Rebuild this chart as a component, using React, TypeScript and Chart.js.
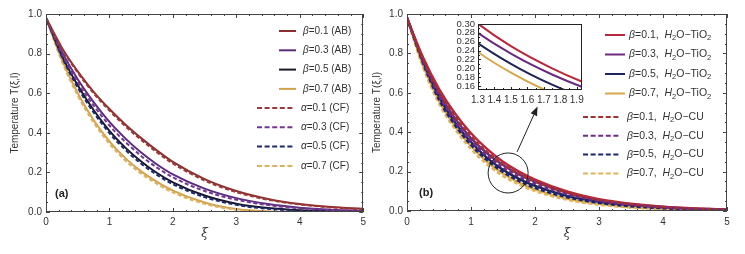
import React, { useEffect, useRef } from "react";
import { Chart, registerables } from "chart.js";

Chart.register(...registerables);

// ---------- data ----------
const XI = [0, 0.25, 0.5, 0.75, 1, 1.25, 1.5, 1.75, 2, 2.5, 3, 3.5, 4, 4.5, 5];

// Panel (a): AB (solid) and CF (dashed)
const AB_B01 = [0.98, 0.83, 0.71, 0.607, 0.52, 0.442, 0.373, 0.31, 0.253, 0.166, 0.106, 0.066, 0.04, 0.025, 0.016];
const AB_B03 = [0.98, 0.81, 0.67, 0.555, 0.455, 0.372, 0.3, 0.24, 0.19, 0.118, 0.07, 0.04, 0.022, 0.012, 0.006];
const AB_B05 = [0.98, 0.79, 0.64, 0.515, 0.41, 0.325, 0.255, 0.197, 0.15, 0.083, 0.042, 0.02, 0.009, 0.004, 0.001];
const AB_B07 = [0.98, 0.77, 0.6, 0.465, 0.357, 0.272, 0.205, 0.152, 0.108, 0.048, 0.015, 0.003, 0, 0, 0];
const CF_A01 = [0.98, 0.826, 0.704, 0.6, 0.512, 0.433, 0.364, 0.301, 0.245, 0.159, 0.1, 0.062, 0.038, 0.023, 0.014];
const CF_A03 = [0.98, 0.8, 0.655, 0.538, 0.437, 0.354, 0.283, 0.224, 0.175, 0.106, 0.062, 0.035, 0.019, 0.01, 0.005];
const CF_A05 = [0.98, 0.783, 0.628, 0.503, 0.398, 0.314, 0.244, 0.187, 0.14, 0.075, 0.036, 0.016, 0.007, 0.003, 0.001];
const CF_A07 = [0.98, 0.76, 0.588, 0.452, 0.345, 0.26, 0.194, 0.142, 0.099, 0.041, 0.011, 0.001, 0, 0, 0];

// Panel (b): H2O-TiO2 (solid) and H2O-CU (dashed)
const TIO2_B01 = [0.98, 0.78, 0.62, 0.495, 0.395, 0.315, 0.25, 0.2, 0.16, 0.1, 0.06, 0.037, 0.022, 0.013, 0.008];
const TIO2_B03 = [0.98, 0.77, 0.6, 0.47, 0.37, 0.293, 0.233, 0.186, 0.149, 0.093, 0.056, 0.034, 0.02, 0.012, 0.007];
const TIO2_B05 = [0.98, 0.76, 0.58, 0.45, 0.35, 0.27, 0.21, 0.163, 0.127, 0.077, 0.046, 0.027, 0.016, 0.009, 0.005];
const TIO2_B07 = [0.98, 0.74, 0.56, 0.43, 0.33, 0.25, 0.19, 0.144, 0.11, 0.063, 0.036, 0.02, 0.011, 0.006, 0.003];
const CU_B01 = [0.98, 0.77, 0.605, 0.48, 0.38, 0.3, 0.237, 0.188, 0.15, 0.093, 0.056, 0.034, 0.02, 0.012, 0.007];
const CU_B03 = [0.98, 0.76, 0.585, 0.455, 0.355, 0.28, 0.22, 0.174, 0.138, 0.085, 0.051, 0.031, 0.018, 0.01, 0.006];
const CU_B05 = [0.98, 0.75, 0.565, 0.435, 0.335, 0.258, 0.198, 0.152, 0.117, 0.07, 0.041, 0.024, 0.014, 0.008, 0.004];
const CU_B07 = [0.98, 0.73, 0.545, 0.415, 0.315, 0.237, 0.178, 0.134, 0.101, 0.057, 0.032, 0.018, 0.01, 0.005, 0.003];

const PARAMS = ["0.1", "0.3", "0.5", "0.7"];

const A_SOLID = [AB_B01, AB_B03, AB_B05, AB_B07];
const A_DASHED = [CF_A01, CF_A03, CF_A05, CF_A07];
const B_SOLID = [TIO2_B01, TIO2_B03, TIO2_B05, TIO2_B07];
const B_DASHED = [CU_B01, CU_B03, CU_B05, CU_B07];

const A_SOLID_COLORS = ["#8e2f2f", "#5b2d80", "#17172e", "#d4a24c"];
const A_DASHED_COLORS = ["#9a3a3a", "#74378e", "#1f2a66", "#d9b260"];
const B_SOLID_COLORS = ["#b8283a", "#6b2a80", "#1d2457", "#d6a84a"];
const B_DASHED_COLORS = ["#a03232", "#6c2b8b", "#1a2470", "#e0b35a"];

const Y_TITLE = "Temperature T(\u03BE,l)";
const X_TITLE = "\u03BE";

// ---------- helpers ----------
const FONT = '"Liberation Sans", Arial, sans-serif';
type Run = { t: string; i?: boolean; sub?: boolean };

function drawRuns(ctx: any, runs: Run[], x: number, y: number, size: number, color: string) {
  ctx.save();
  ctx.fillStyle = color;
  ctx.textBaseline = "middle";
  ctx.textAlign = "left";
  let cx = x;
  for (const r of runs) {
    const s = r.sub ? size * 0.72 : size;
    ctx.font = `${r.i ? "italic " : ""}${s}px ${FONT}`;
    ctx.fillText(r.t, cx, y + (r.sub ? size * 0.3 : 0));
    cx += ctx.measureText(r.t).width;
  }
  ctx.restore();
}

function series(values: number[], color: string, dashed: boolean, lw: number) {
  return {
    data: XI.map((x, i) => ({ x, y: values[i] })),
    borderColor: color,
    backgroundColor: color,
    borderWidth: lw,
    borderDash: dashed ? [4, 2.5] : [],
    pointRadius: 0,
    cubicInterpolationMode: "monotone",
    fill: false,
    order: dashed ? 0 : 1,
  };
}

const framePlugin = {
  id: "frame",
  afterDatasetsDraw(chart: any, _a: any, o: any) {
    const { ctx, chartArea: ca, scales } = chart;
    const xs = scales.x, ys = scales.y;
    ctx.save();
    if (o.fillBg) {
      // nothing: background painted before datasets in beforeDatasetsDraw
    }
    ctx.strokeStyle = o.color;
    ctx.lineWidth = 1;
    ctx.strokeRect(Math.round(ca.left) + 0.5, Math.round(ca.top) + 0.5, Math.round(ca.right - ca.left) - 1, Math.round(ca.bottom - ca.top) - 1);
    const eps = 1e-6;
    const isMajor = (v: number, step: number) => Math.abs(v / step - Math.round(v / step)) < 1e-4;
    ctx.beginPath();
    // x ticks
    const x0 = Math.ceil(xs.min / o.xMinor - eps);
    for (let k = x0; k * o.xMinor <= xs.max + eps; k++) {
      const v = k * o.xMinor;
      const len = isMajor(v, o.xMajor) ? o.major : o.minor;
      const px = Math.round(xs.getPixelForValue(v)) + 0.5;
      ctx.moveTo(px, ca.bottom); ctx.lineTo(px, ca.bottom - len);
      if (o.allSides) { ctx.moveTo(px, ca.top); ctx.lineTo(px, ca.top + len); }
    }
    const y0 = Math.ceil(ys.min / o.yMinor - eps);
    for (let k = y0; k * o.yMinor <= ys.max + eps; k++) {
      const v = k * o.yMinor;
      const len = isMajor(v, o.yMajor) ? o.major : o.minor;
      const py = Math.round(ys.getPixelForValue(v)) + 0.5;
      ctx.moveTo(ca.left, py); ctx.lineTo(ca.left + len, py);
      if (o.allSides) { ctx.moveTo(ca.right, py); ctx.lineTo(ca.right - len, py); }
    }
    ctx.stroke();
    if (o.label) {
      ctx.fillStyle = "#222";
      ctx.font = `bold 11px ${FONT}`;
      ctx.textBaseline = "middle";
      ctx.textAlign = "left";
      ctx.fillText(o.label, ca.left + o.labelDx, ca.bottom - o.labelDy);
    }
    ctx.restore();
  },
  beforeDatasetsDraw(chart: any, _a: any, o: any) {
    if (!o.fillBg) return;
    const { ctx, chartArea: ca } = chart;
    ctx.save();
    ctx.fillStyle = "#fff";
    ctx.fillRect(ca.left, ca.top, ca.right - ca.left, ca.bottom - ca.top);
    ctx.restore();
  },
};

const legendPlugin = {
  id: "richLegend",
  afterDraw(chart: any, _a: any, o: any) {
    if (!o.items) return;
    const ctx = chart.ctx;
    for (const it of o.items) {
      ctx.save();
      ctx.strokeStyle = it.color;
      ctx.lineWidth = it.lw;
      ctx.setLineDash(it.dash);
      ctx.beginPath();
      ctx.moveTo(it.x1, it.y);
      ctx.lineTo(it.x2, it.y);
      ctx.stroke();
      ctx.restore();
      drawRuns(ctx, it.runs, it.tx, it.y, o.size, "#333");
    }
  },
};

const annotPlugin = {
  id: "annot",
  afterDatasetsDraw(chart: any, _a: any, o: any) {
    if (!o.circle) return;
    const { ctx, scales } = chart;
    const xs = scales.x, ys = scales.y;
    ctx.save();
    ctx.strokeStyle = "#222";
    ctx.fillStyle = "#222";
    ctx.lineWidth = 1;
    const cx = xs.getPixelForValue(o.circle.x), cy = ys.getPixelForValue(o.circle.y);
    ctx.beginPath();
    ctx.arc(cx, cy, o.circle.r, 0, Math.PI * 2);
    ctx.stroke();
    const ax1 = xs.getPixelForValue(o.arrow.x1), ay1 = ys.getPixelForValue(o.arrow.y1);
    const ax2 = xs.getPixelForValue(o.arrow.x2), ay2 = ys.getPixelForValue(o.arrow.y2);
    const ang = Math.atan2(ay2 - ay1, ax2 - ax1);
    const hl = 9, hw = 3.5;
    const bx = ax2 - hl * Math.cos(ang), by = ay2 - hl * Math.sin(ang);
    ctx.beginPath();
    ctx.moveTo(ax1, ay1);
    ctx.lineTo(bx, by);
    ctx.stroke();
    ctx.beginPath();
    ctx.moveTo(ax2, ay2);
    ctx.lineTo(bx + hw * Math.sin(ang), by - hw * Math.cos(ang));
    ctx.lineTo(bx - hw * Math.sin(ang), by + hw * Math.cos(ang));
    ctx.closePath();
    ctx.fill();
    ctx.restore();
  },
};

function mainConfig(p: any) {
  return {
    type: "line",
    data: { datasets: p.datasets },
    plugins: [framePlugin, legendPlugin, annotPlugin],
    options: {
      responsive: false,
      animation: false,
      parsing: true,
      layout: { padding: { top: 14, right: p.padRight, left: 0, bottom: 0 } },
      plugins: {
        legend: { display: false },
        tooltip: { enabled: false },
        frame: { color: "#444", xMinor: 0.2, xMajor: 1, yMinor: 0.05, yMajor: 0.2, major: 4, minor: 2, allSides: true, label: p.label, labelDx: p.labelDx, labelDy: 18 },
        richLegend: { items: p.legend, size: p.legendSize },
        annot: p.annot || {},
      },
      scales: {
        x: {
          type: "linear",
          min: 0,
          max: 5,
          grid: { display: false, drawTicks: false },
          border: { display: false },
          ticks: { stepSize: 1, padding: p.xTickPad, color: "#333", font: { family: FONT, size: 10 }, maxRotation: 0, callback: (v: number) => String(v) },
          title: { display: true, text: X_TITLE, color: "#333", font: { family: '"DejaVu Serif", serif', style: "italic", size: 12 }, padding: { top: 0, bottom: 13 } },
          afterFit: (s: any) => { s.height = p.xHeight; },
        },
        y: {
          type: "linear",
          min: 0,
          max: 1,
          grid: { display: false, drawTicks: false },
          border: { display: false },
          ticks: { stepSize: 0.2, padding: 4, color: "#333", font: { family: FONT, size: 10 }, callback: (v: number) => v.toFixed(1) },
          title: { display: true, text: Y_TITLE, color: "#333", font: { family: FONT, size: 10 }, padding: { top: p.yTitlePad, bottom: 0 } },
          afterFit: (s: any) => { s.width = p.yWidth; },
        },
      },
    },
  };
}

function buildA(canvas: HTMLCanvasElement) {
  const datasets = [
    ...A_SOLID.map((v, i) => series(v, A_SOLID_COLORS[i], false, 2)),
    ...A_DASHED.map((v, i) => series(v, A_DASHED_COLORS[i], true, 2)),
  ];
  const legend = [
    ...PARAMS.map((p, i) => ({ color: A_SOLID_COLORS[i], lw: 2, dash: [], x1: 279, x2: 296, tx: 303, y: 31 + i * 19.3, runs: [{ t: "\u03B2", i: true }, { t: `=${p} (AB)` }] })),
    ...PARAMS.map((p, i) => ({ color: A_DASHED_COLORS[i], lw: 2, dash: [5, 2.6], x1: 257, x2: 295, tx: 301, y: 108 + i * 19.3, runs: [{ t: "\u03B1", i: true }, { t: `=${p} (CF)` }] })),
  ];
  return new Chart(canvas, mainConfig({ datasets, padRight: 5, yWidth: 46, xHeight: 42, xTickPad: 4, yTitlePad: 9, legend, legendSize: 10, label: "(a)", labelDx: 9 }) as any);
}

function buildB(canvas: HTMLCanvasElement) {
  const datasets = [
    ...B_SOLID.map((v, i) => series(v, B_SOLID_COLORS[i], false, 2.4)),
    ...B_DASHED.map((v, i) => series(v, B_DASHED_COLORS[i], true, 2.4)),
  ];
  const h2o = (p: string, tail: string): Run[] => [
    { t: "\u03B2", i: true }, { t: `=${p},  ` }, { t: "H", i: true }, { t: "2", sub: true }, { t: `O\u2212${tail}` },
  ];
  const legend = [
    ...PARAMS.map((p, i) => ({ color: B_SOLID_COLORS[i], lw: 2, dash: [], x1: 235, x2: 255, tx: 259, y: 35 + i * 19.5, runs: [...h2o(p, "TiO"), { t: "2", sub: true }] })),
    ...PARAMS.map((p, i) => ({ color: B_DASHED_COLORS[i], lw: 2, dash: [5, 2.6], x1: 213, x2: 251, tx: 257, y: 117 + i * 18.8, runs: h2o(p, "CU") })),
  ];
  const annot = { circle: { x: 1.58, y: 0.193, r: 20 }, arrow: { x1: 1.72, y1: 0.3, x2: 2.04, y2: 0.53 } };
  return new Chart(canvas, mainConfig({ datasets, padRight: 18, yWidth: 37, xHeight: 43, xTickPad: 5, yTitlePad: 1, legend, legendSize: 10.5, label: "(b)", labelDx: 12, annot }) as any);
}

function buildInset(canvas: HTMLCanvasElement) {
  const datasets = B_SOLID.map((v, i) => series(v, B_SOLID_COLORS[i], false, 2));
  return new Chart(canvas, {
    type: "line",
    data: { datasets },
    plugins: [framePlugin],
    options: {
      responsive: false,
      animation: false,
      layout: { padding: { top: 8, right: 6, left: 0, bottom: 0 } },
      plugins: {
        legend: { display: false },
        tooltip: { enabled: false },
        frame: { color: "#222", xMinor: 0.05, xMajor: 0.1, yMinor: 0.01, yMajor: 0.02, major: 3, minor: 2, allSides: false, fillBg: true },
      },
      scales: {
        x: {
          type: "linear", min: 1.3, max: 1.93,
          grid: { display: false, drawTicks: false }, border: { display: false },
          ticks: { stepSize: 0.1, includeBounds: false, autoSkip: false, padding: 4, color: "#333", font: { family: FONT, size: 10 }, maxRotation: 0, callback: (v: number) => v.toFixed(1) },
          afterFit: (s: any) => { s.height = 21; },
        },
        y: {
          type: "linear", min: 0.151, max: 0.3,
          grid: { display: false, drawTicks: false }, border: { display: false },
          ticks: { stepSize: 0.02, includeBounds: false, autoSkip: false, padding: 3, color: "#333", font: { family: FONT, size: 9.5, lineHeight: 0.9 }, callback: (v: number) => v.toFixed(2) },
          afterFit: (s: any) => { s.width = 40; },
        },
      },
    },
  } as any);
}

function ChartCanvas({ build, left, top, width, height }: any) {
  const ref = useRef<HTMLCanvasElement>(null);
  useEffect(() => {
    const c = build(ref.current!);
    return () => c.destroy();
  }, []);
  return (
    <canvas
      ref={ref}
      width={width}
      height={height}
      style={{ position: "absolute", left, top, width, height, display: "block" }}
    />
  );
}

export default function App() {
  return (
    <div style={{ position: "absolute", left: 0, top: 0, width: 745, height: 254, background: "#fff", overflow: "hidden" }}>
      <ChartCanvas build={buildA} left={0} top={0} width={370} height={254} />
      <ChartCanvas build={buildB} left={370} top={0} width={375} height={254} />
      <ChartCanvas build={buildInset} left={438} top={16} width={150} height={95} />
    </div>
  );
}
